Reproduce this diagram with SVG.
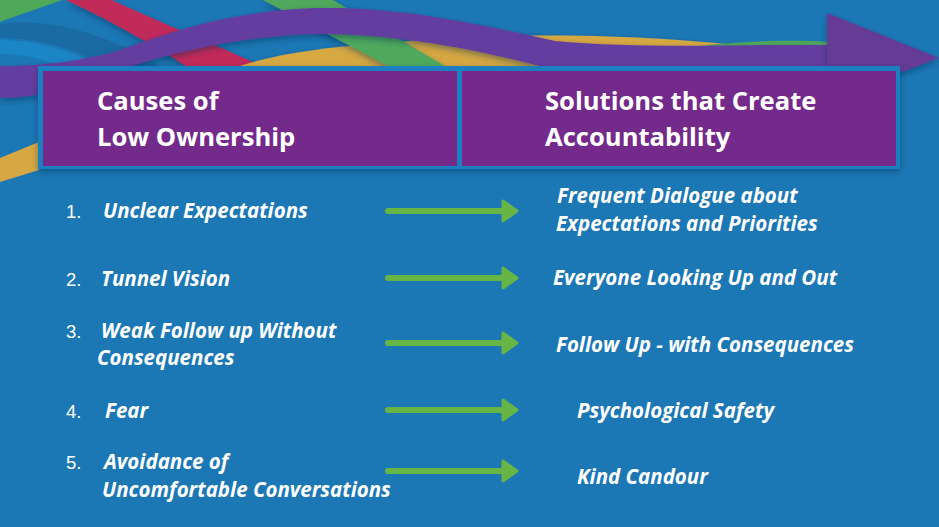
<svg xmlns="http://www.w3.org/2000/svg" width="939" height="527" viewBox="0 0 939 527">
<defs>
<style>
.h{font-family:"Open Sans","Noto Sans",sans-serif;font-weight:700;font-size:25.6px;fill:#ffffff}
.num{font-family:"Liberation Sans",Arial,sans-serif;font-size:18.5px;fill:#ffffff}
.it{font-family:"Open Sans","Noto Sans",sans-serif;font-weight:700;font-style:italic;font-size:20.5px;fill:#ffffff}
.conn{stroke:#67b545;stroke-width:6;stroke-linecap:round;fill:none}
</style>
<marker id="ah" markerUnits="userSpaceOnUse" viewBox="0 0 18 24" markerWidth="18" markerHeight="24" refX="3" refY="12" orient="auto">
<path d="M2,2 L16,12 L2,22 Z" fill="#67b545" stroke="#67b545" stroke-width="3" stroke-linejoin="round"/>
</marker>
<filter id="sh" x="-10%" y="-30%" width="120%" height="160%">
<feDropShadow dx="0" dy="3" stdDeviation="3" flood-color="#0b2f55" flood-opacity="0.45"/>
</filter>
</defs>
<rect x="0" y="0" width="939" height="527" fill="#1c78b4"/>
<g id="ribbons">
<path d="M0,0 L62,0 C40,8 18,15 0,22 Z" fill="#4fa95b"/>
<path d="M0,24 C40,18 85,28 135,52 L160,66 L105,66 C75,48 35,38 0,38 Z" fill="#1a6aa3"/>
<path d="M0,40 C35,40 70,50 100,66 L60,66 C40,58 20,54 0,54 Z" fill="#1b86c6"/>
<path d="M66,0 L112,0 C150,18 205,40 262,66 L186,66 C160,50 120,25 66,0 Z" fill="#c2295a" filter="url(#sh)"/>
<path d="M240,66 C300,46 400,40 520,36 C600,34 700,40 760,48 L760,70 L240,70 Z" fill="#d6a843" filter="url(#sh)"/>
<path d="M263,0 L333,0 L445,66 L388,66 Z" fill="#4fa95b" filter="url(#sh)"/>
<path d="M700,46 C750,40 800,40 830,42 L830,52 L700,52 Z" fill="#4fa95b"/>
<path d="M0,66 C40,66 80,62 120,50 C180,28 240,10 320,8 C400,7 470,22 555,41 C620,47 700,46 760,45 L843,45 L843,70 L760,70 L555,70 C480,50 400,34 320,34 C250,35 180,50 125,68 C85,85 40,98 0,98 Z" fill="#633e9f" filter="url(#sh)"/>
<path d="M827,13 L939,58 L827,100 Z" fill="#653a96" filter="url(#sh)"/>
<path d="M0,158 L39,142 L39,170 L0,182 Z" fill="#d6a843"/>
</g>
<g id="header">
<rect x="38" y="66" width="862" height="103" fill="#1c80c0" filter="url(#sh)"/>
<g id="causes-header">
<rect x="43" y="71" width="414" height="95" fill="#742a8a"/>
<text class="h" x="97" y="110">Causes of</text>
<text class="h" x="97" y="146">Low Ownership</text>
</g>
<g id="solutions-header">
<rect x="462" y="71" width="434" height="95" fill="#742a8a"/>
<text class="h" x="545" y="110">Solutions that Create</text>
<text class="h" x="545" y="146">Accountability</text>
</g>
</g>
<g id="causes">
<g id="cause1"><text class="num" x="66" y="218">1.</text><text class="it" x="103" y="218">Unclear Expectations</text></g>
<g id="cause2"><text class="num" x="66" y="286">2.</text><text class="it" x="101" y="286">Tunnel Vision</text></g>
<g id="cause3"><text class="num" x="66" y="338">3.</text><text class="it" x="101" y="338">Weak Follow up Without</text><text class="it" x="97" y="365">Consequences</text></g>
<g id="cause4"><text class="num" x="66" y="418">4.</text><text class="it" x="105" y="418">Fear</text></g>
<g id="cause5"><text class="num" x="66" y="469">5.</text><text class="it" x="104" y="469">Avoidance of</text><text class="it" x="102" y="497">Uncomfortable Conversations</text></g>
</g>
<g id="solutions">
<g id="solution1"><text class="it" x="557" y="203">Frequent Dialogue about</text><text class="it" x="556" y="231">Expectations and Priorities</text></g>
<g id="solution2"><text class="it" x="553" y="285">Everyone Looking Up and Out</text></g>
<g id="solution3"><text class="it" x="556" y="352">Follow Up - with Consequences</text></g>
<g id="solution4"><text class="it" x="577" y="418">Psychological Safety</text></g>
<g id="solution5"><text class="it" x="577" y="484">Kind Candour</text></g>
</g>
<g id="connectors">
<line class="conn" x1="388" y1="211" x2="504" y2="211" marker-end="url(#ah)"/>
<line class="conn" x1="388" y1="278" x2="504" y2="278" marker-end="url(#ah)"/>
<line class="conn" x1="388" y1="343" x2="504" y2="343" marker-end="url(#ah)"/>
<line class="conn" x1="388" y1="410" x2="504" y2="410" marker-end="url(#ah)"/>
<line class="conn" x1="388" y1="471" x2="504" y2="471" marker-end="url(#ah)"/>
</g>
</svg>
